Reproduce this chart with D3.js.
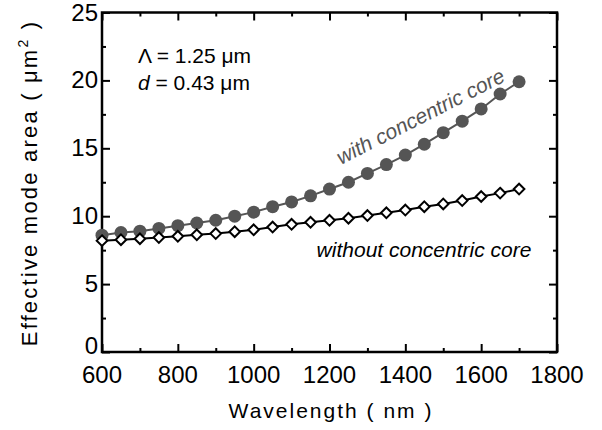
<!DOCTYPE html>
<html>
<head>
<meta charset="utf-8">
<style>
  body { margin: 0; background: #fff; }
  svg text { font-family: "Liberation Sans", Arial, sans-serif; }
</style>
</head>
<body>
<svg width="602" height="430"></svg>
<script src="https://cdn.jsdelivr.net/npm/d3@7"></script>
<script>
// wavelengths (nm)
const wavelength = [600, 650, 700, 750, 800, 850, 900, 950, 1000, 1050, 1100, 1150,
  1200, 1250, 1300, 1350, 1400, 1450, 1500, 1550, 1600, 1650, 1700];
// effective mode area (um^2)
const withCore = [8.6, 8.8, 8.9, 9.1, 9.3, 9.5, 9.7, 10.0, 10.3, 10.7, 11.05, 11.5,
  12.0, 12.5, 13.15, 13.8, 14.5, 15.3, 16.15, 17.0, 17.9, 19.0, 19.9];
const withoutCore = [8.2, 8.27, 8.34, 8.43, 8.52, 8.63, 8.72, 8.86, 9.0, 9.2, 9.4, 9.55,
  9.7, 9.85, 10.05, 10.25, 10.45, 10.7, 10.9, 11.15, 11.45, 11.7, 12.0];
const xTicks = [600, 800, 1000, 1200, 1400, 1600, 1800];
const yTicks = [0, 5, 10, 15, 20, 25];

const svg = d3.select("svg");
const m = { left: 102, right: 557, top: 12.5, bottom: 352 };

const x = d3.scaleLinear().domain([600, 1800]).range([m.left, m.right]);
const y = d3.scaleLinear().domain([0, 25]).range([m.bottom, m.top]);

// frame
svg.append("rect")
  .attr("x", m.left).attr("y", m.top)
  .attr("width", m.right - m.left).attr("height", m.bottom - m.top)
  .attr("fill", "none").attr("stroke", "#000").attr("stroke-width", 2.5);

// inward ticks on all sides
function ticks(axis, scale, pos, major, minor) {
  const g = svg.append("g").attr("transform", pos);
  g.call(axis(scale).tickValues(minor).tickSize(4).tickFormat(""));
  g.append("g").call(axis(scale).tickValues(major).tickSize(8).tickFormat(""));
  g.selectAll(".domain").remove();
  g.selectAll("line").attr("stroke", "#000").attr("stroke-width", 2);
}
const xMinor = d3.range(700, 1800, 200);
const yMinor = d3.range(2.5, 25, 5);
ticks(d3.axisTop, x, `translate(0,${m.bottom})`, xTicks, xMinor);
ticks(d3.axisBottom, x, `translate(0,${m.top})`, xTicks, xMinor);
ticks(d3.axisRight, y, `translate(${m.left},0)`, yTicks, yMinor);
ticks(d3.axisLeft, y, `translate(${m.right},0)`, yTicks, yMinor);

// tick labels
svg.append("g").selectAll("text").data(xTicks).join("text")
  .attr("x", d => x(d)).attr("y", 383)
  .attr("text-anchor", "middle").attr("font-size", 24)
  .text(d => d);
svg.append("g").selectAll("text").data(yTicks).join("text")
  .attr("x", 98).attr("y", d => y(d) + (d === 0 ? 2 : 8))
  .attr("text-anchor", "end").attr("font-size", 24)
  .text(d => d);

// lines and markers
const line = d3.line().x((d, i) => x(wavelength[i])).y(d => y(d));
svg.append("path").datum(withCore).attr("d", line)
  .attr("fill", "none").attr("stroke", "#555").attr("stroke-width", 2);
svg.append("path").datum(withoutCore).attr("d", line)
  .attr("fill", "none").attr("stroke", "#000").attr("stroke-width", 2);

svg.append("g").selectAll("circle").data(withCore).join("circle")
  .attr("cx", (d, i) => x(wavelength[i])).attr("cy", d => y(d))
  .attr("r", 6.5).attr("fill", "#555");

const diamond = d3.symbol().type(d3.symbolDiamond2).size(72);
svg.append("g").selectAll("path").data(withoutCore).join("path")
  .attr("transform", (d, i) => `translate(${x(wavelength[i])},${y(d)})`)
  .attr("d", diamond)
  .attr("fill", "#fff").attr("stroke", "#000").attr("stroke-width", 2);

// annotations
const t1 = svg.append("text").attr("x", 138).attr("y", 63).attr("font-size", 21);
t1.append("tspan").text("Λ = 1.25 μm");
const t2 = svg.append("text").attr("x", 138).attr("y", 90).attr("font-size", 21);
t2.append("tspan").attr("font-style", "italic").text("d");
t2.append("tspan").text(" = 0.43 μm");

svg.append("text")
  .attr("transform", "translate(341,165) rotate(-27)")
  .attr("font-size", 21).attr("font-style", "italic").attr("fill", "#555")
  .text("with concentric core");
svg.append("text")
  .attr("x", 424).attr("y", 257).attr("text-anchor", "middle")
  .attr("font-size", 21).attr("font-style", "italic")
  .text("without concentric core");

// axis titles
svg.append("text")
  .attr("x", 331).attr("y", 418).attr("text-anchor", "middle")
  .attr("font-size", 21).attr("letter-spacing", 2)
  .text("Wavelength ( nm )");
const yl = svg.append("text")
  .attr("transform", "translate(37,183) rotate(-90)")
  .attr("text-anchor", "middle")
  .attr("font-size", 22).attr("letter-spacing", 2.2);
yl.append("tspan").text("Effective mode area ( μm");
yl.append("tspan").attr("font-size", 14).attr("dy", -9).text("2");
yl.append("tspan").attr("dy", 9).text(" )");
</script>
</body>
</html>
